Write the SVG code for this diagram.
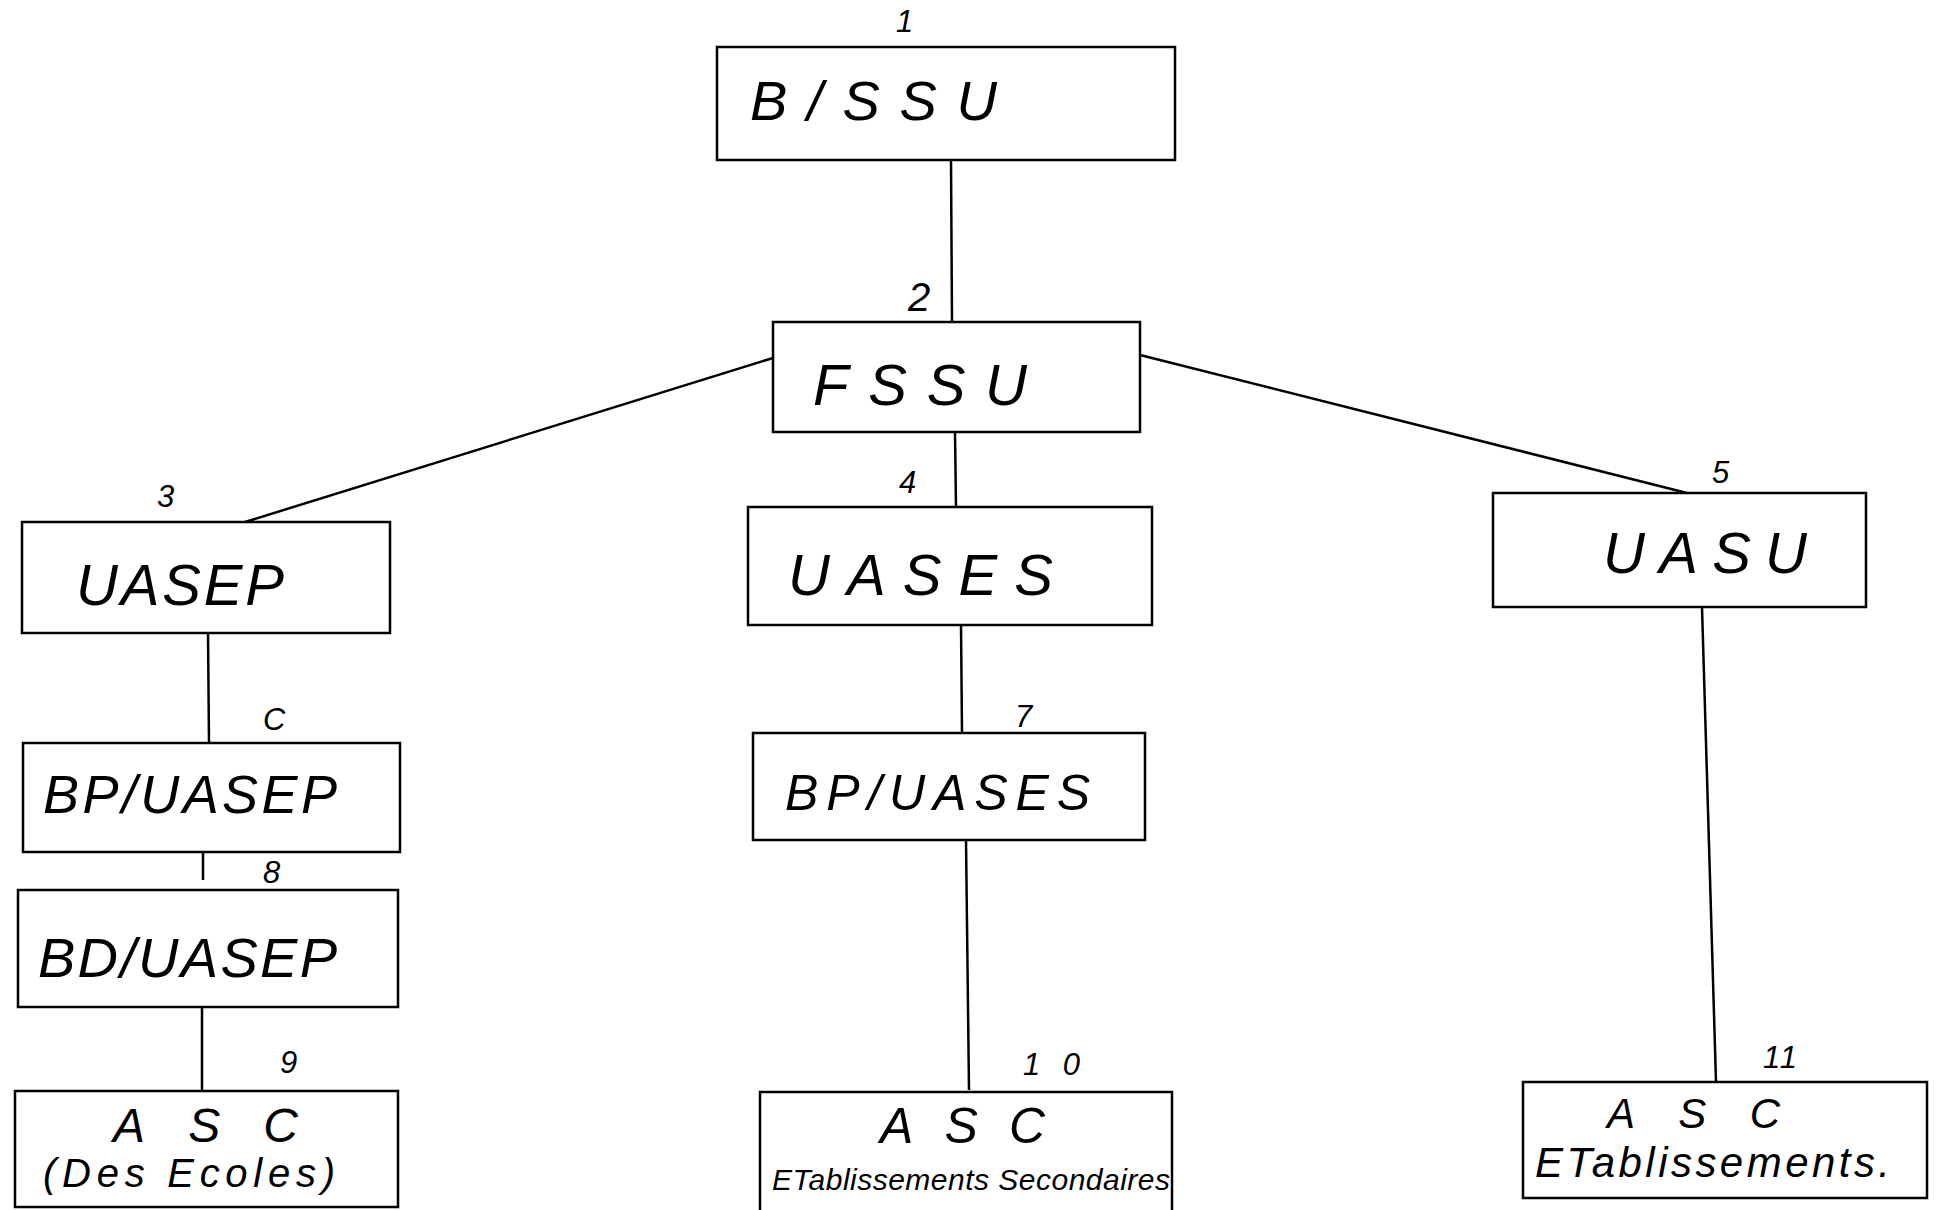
<svg xmlns="http://www.w3.org/2000/svg" width="1939" height="1210" viewBox="0 0 1939 1210">
<style>
rect.box{fill:none;stroke:#000;stroke-width:2.5}
.conn line{stroke:#000;stroke-width:2.5}
text{font-family:"Liberation Sans",Arial,sans-serif;font-style:italic;fill:#000}
.lbl{font-size:31px}
</style>
<rect width="1939" height="1210" fill="#fff"/>
<g class="conn">
<line x1="951" y1="160" x2="952" y2="322"/>
<line x1="773" y1="358" x2="245" y2="522"/>
<line x1="1140" y1="355" x2="1687" y2="493"/>
<line x1="955" y1="432" x2="956" y2="507"/>
<line x1="208" y1="633" x2="209" y2="743"/>
<line x1="961" y1="625" x2="962" y2="733"/>
<line x1="1702" y1="607" x2="1716" y2="1082"/>
<line x1="203" y1="852" x2="203" y2="880"/>
<line x1="202" y1="1007" x2="202" y2="1091"/>
<line x1="966" y1="840" x2="969" y2="1090"/>
</g>
<g id="n1"><rect class="box" x="717" y="47" width="458" height="113"/><text x="750" y="120" font-size="56" textLength="247" lengthAdjust="spacing">B/SSU</text><text class="lbl" x="896" y="32">1</text></g>
<g id="n2"><rect class="box" x="773" y="322" width="367" height="110"/><text x="813" y="405" font-size="58" textLength="214" lengthAdjust="spacing">FSSU</text><text x="908" y="311" style="font-size:40px">2</text></g>
<g id="n3"><rect class="box" x="22" y="522" width="368" height="111"/><text x="76" y="605" font-size="58" textLength="208" lengthAdjust="spacing">UASEP</text><text class="lbl" x="157" y="507">3</text></g>
<g id="n4"><rect class="box" x="748" y="507" width="404" height="118"/><text x="788" y="595" font-size="58" textLength="265" lengthAdjust="spacing">UASES</text><text class="lbl" x="899" y="493">4</text></g>
<g id="n5"><rect class="box" x="1493" y="493" width="373" height="114"/><text x="1603" y="573" font-size="58" textLength="204" lengthAdjust="spacing">UASU</text><text class="lbl" x="1712" y="483">5</text></g>
<g id="n6"><rect class="box" x="23" y="743" width="377" height="109"/><text x="43" y="813" font-size="54" textLength="294" lengthAdjust="spacing">BP/UASEP</text><text class="lbl" x="263" y="730">C</text></g>
<g id="n7"><rect class="box" x="753" y="733" width="392" height="107"/><text x="785" y="810" font-size="50" textLength="305" lengthAdjust="spacing">BP/UASES</text><text class="lbl" x="1015" y="727">7</text></g>
<g id="n8"><rect class="box" x="18" y="890" width="380" height="117"/><text x="38" y="977" font-size="56" textLength="299" lengthAdjust="spacing">BD/UASEP</text><text class="lbl" x="263" y="883">8</text></g>
<g id="n9"><rect class="box" x="15" y="1091" width="383" height="116"/><text x="113" y="1142" font-size="48" textLength="185" lengthAdjust="spacing">ASC</text><text x="43" y="1187" font-size="40" textLength="292" lengthAdjust="spacing">(Des Ecoles)</text><text class="lbl" x="280" y="1073">9</text></g>
<g id="n10"><rect class="box" x="760" y="1092" width="412" height="125"/><text x="880" y="1143" font-size="50" textLength="165" lengthAdjust="spacing">ASC</text><text x="772" y="1190" font-size="30" textLength="398" lengthAdjust="spacing">ETablissements Secondaires</text><text class="lbl" x="1023" y="1075" textLength="57" lengthAdjust="spacing">10</text></g>
<g id="n11"><rect class="box" x="1523" y="1082" width="404" height="116"/><text x="1607" y="1128" font-size="42" textLength="173" lengthAdjust="spacing">ASC</text><text x="1535" y="1177" font-size="42" textLength="355" lengthAdjust="spacing">ETablissements.</text><text class="lbl" x="1763" y="1068" textLength="34" lengthAdjust="spacing">11</text></g>
</svg>
